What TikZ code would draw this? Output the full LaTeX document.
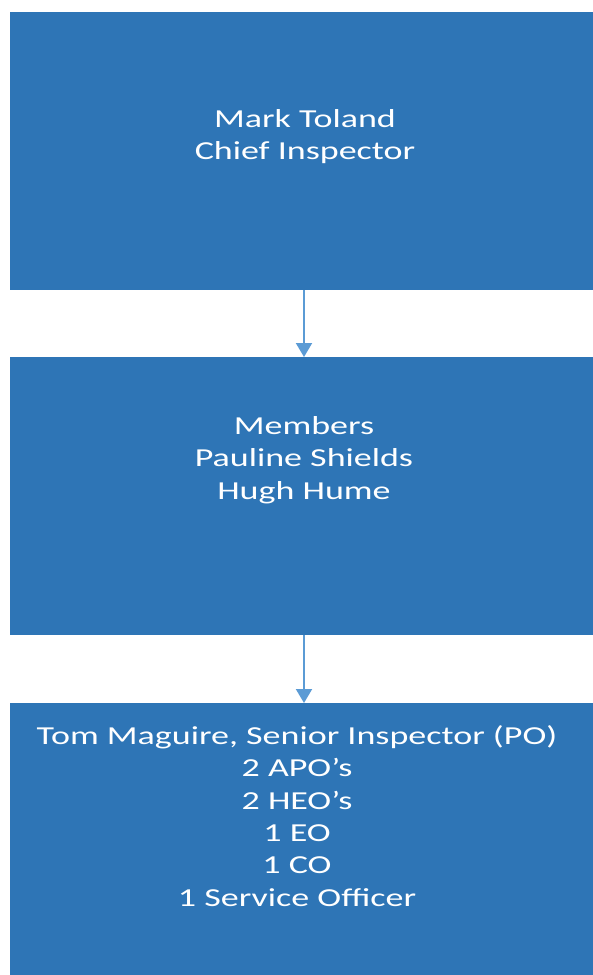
\documentclass[tikz,border=0pt]{standalone}
\usepackage{fontspec}
\setmainfont{Carlito}[FakeStretch=1.39]
\usetikzlibrary{arrows.meta}
\definecolor{boxblue}{HTML}{2E75B6}
\definecolor{linkblue}{HTML}{5B9BD5}
\tikzset{
  orgbox/.style={fill=boxblue, draw=none, inner sep=0pt, anchor=north west},
  orgtext/.style={text=white, align=center, font=\fontsize{26}{32.5}\selectfont, anchor=north},
  link/.style={draw=linkblue, line width=2bp, -{Triangle[length=14bp, width=16bp]}}
}
\begin{document}
\begin{tikzpicture}[x=1bp, y=-1bp]
    \useasboundingbox (0,0) rectangle (593,975);
    % Boxes
    \node[orgbox, minimum width=583bp, minimum height=278bp] (chief) at (10,12) {};
    \node[orgbox, minimum width=583bp, minimum height=278bp] (members) at (10,357) {};
    \node[orgbox, minimum width=583bp, minimum height=272bp] (staff) at (10,703) {};
    % Texts
    \node[orgtext] (chieftext) at (305,106) {Mark Toland\\Chief Inspector};
    \node[orgtext] (memberstext) at (304,413) {Members\\Pauline Shields\\Hugh Hume};
    \node[orgtext] (stafftext) at (297,722) {Tom Maguire, Senior Inspector (PO)\\2 APO’s\\2 HEO’s\\1 EO\\1 CO\\1 Service Officer};
    % Arrows
    \draw[link] (chief.south -| 304,0) -- (members.north -| 304,0);
    \draw[link] (members.south -| 304,0) -- (staff.north -| 304,0);
\end{tikzpicture}
\end{document}
